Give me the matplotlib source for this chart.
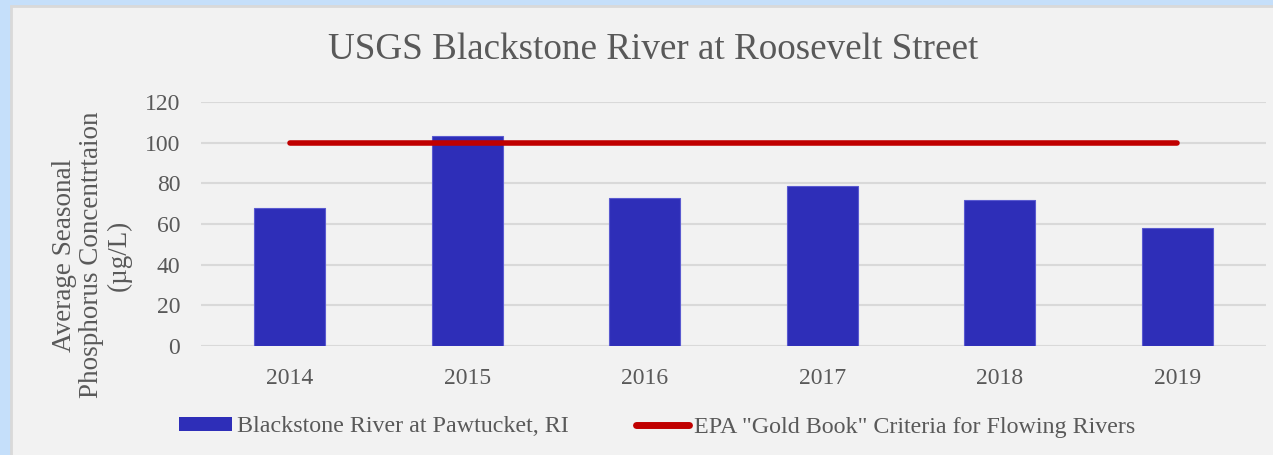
import matplotlib
matplotlib.use("Agg")
import matplotlib.pyplot as plt
from matplotlib.patches import Rectangle, Patch
from matplotlib.lines import Line2D

years = ["2014", "2015", "2016", "2017", "2018", "2019"]
phosphorus = [68, 103.5, 73, 78.5, 72, 58]
criteria = [100, 100, 100, 100, 100, 100]
bar_label = "Blackstone River at Pawtucket, RI"
line_label = 'EPA "Gold Book" Criteria for Flowing Rivers'
title = "USGS Blackstone River at Roosevelt Street"
ylabel = "Average Seasonal\nPhosphorus Concentrtaion\n(\u00b5g/L)"
yticks = [0, 20, 40, 60, 80, 100, 120]

W, H = 1273, 455
plt.rcParams['font.family'] = ['Liberation Serif', 'DejaVu Serif']
fig = plt.figure(figsize=(W / 100, H / 100), dpi=100)
fig.patch.set_facecolor('#c5dffa')

# chart area panel
fig.add_artist(Rectangle((11 / W, -0.05), 1.1, 1 - 6 / H + 0.05, transform=fig.transFigure,
                         facecolor='#f2f2f2', edgecolor='#d9d9d9', linewidth=2, zorder=0))

ax = fig.add_axes([201 / W, 1 - 346 / H, (1266 - 201) / W, (346 - 102) / H])
ax.set_facecolor('none')
x = list(range(len(years)))
ax.bar(x, phosphorus, width=0.4, color='#2e2eb8', edgecolor='#5a5ad0', linewidth=0.8, zorder=2)
ax.plot(x, criteria, color='#c00000', linewidth=4, solid_capstyle='round', zorder=3)

ax.set_xlim(-0.5, len(years) - 0.5)
ax.set_ylim(0, 120)
ax.set_yticks(yticks)
ax.set_xticks(x)
ax.set_xticklabels(years)
ax.tick_params(axis='both', length=0, labelsize=17, labelcolor='#595959')
ax.tick_params(axis='y', pad=15)
ax.tick_params(axis='x', pad=16)
ax.grid(axis='y', color='#d9d9d9', linewidth=1.5, zorder=0)
ax.set_axisbelow(True)
for s in ax.spines.values():
    s.set_visible(False)

fig.text(653 / W, 1 - 50 / H, title, ha='center', va='center', fontsize=26.7, color='#595959')
fig.text(92 / W, 1 - 255 / H, ylabel, rotation=90, ha='center', va='center',
         multialignment='center', fontsize=19.5, color='#595959', linespacing=1.12)

handles = [Patch(facecolor='#2e2eb8', edgecolor='none'),
           Line2D([0], [0], color='#c00000', linewidth=5, solid_capstyle='round')]
fig.legend(handles, [bar_label, line_label], loc='center', bbox_to_anchor=(657 / W, 1 - 427 / H),
           ncol=2, frameon=False, fontsize=17.3, labelcolor='#595959', handlelength=2.2,
           handleheight=0.55, handletextpad=0.2, columnspacing=2.8)

fig.savefig('out.png', dpi=100, facecolor=fig.get_facecolor())
